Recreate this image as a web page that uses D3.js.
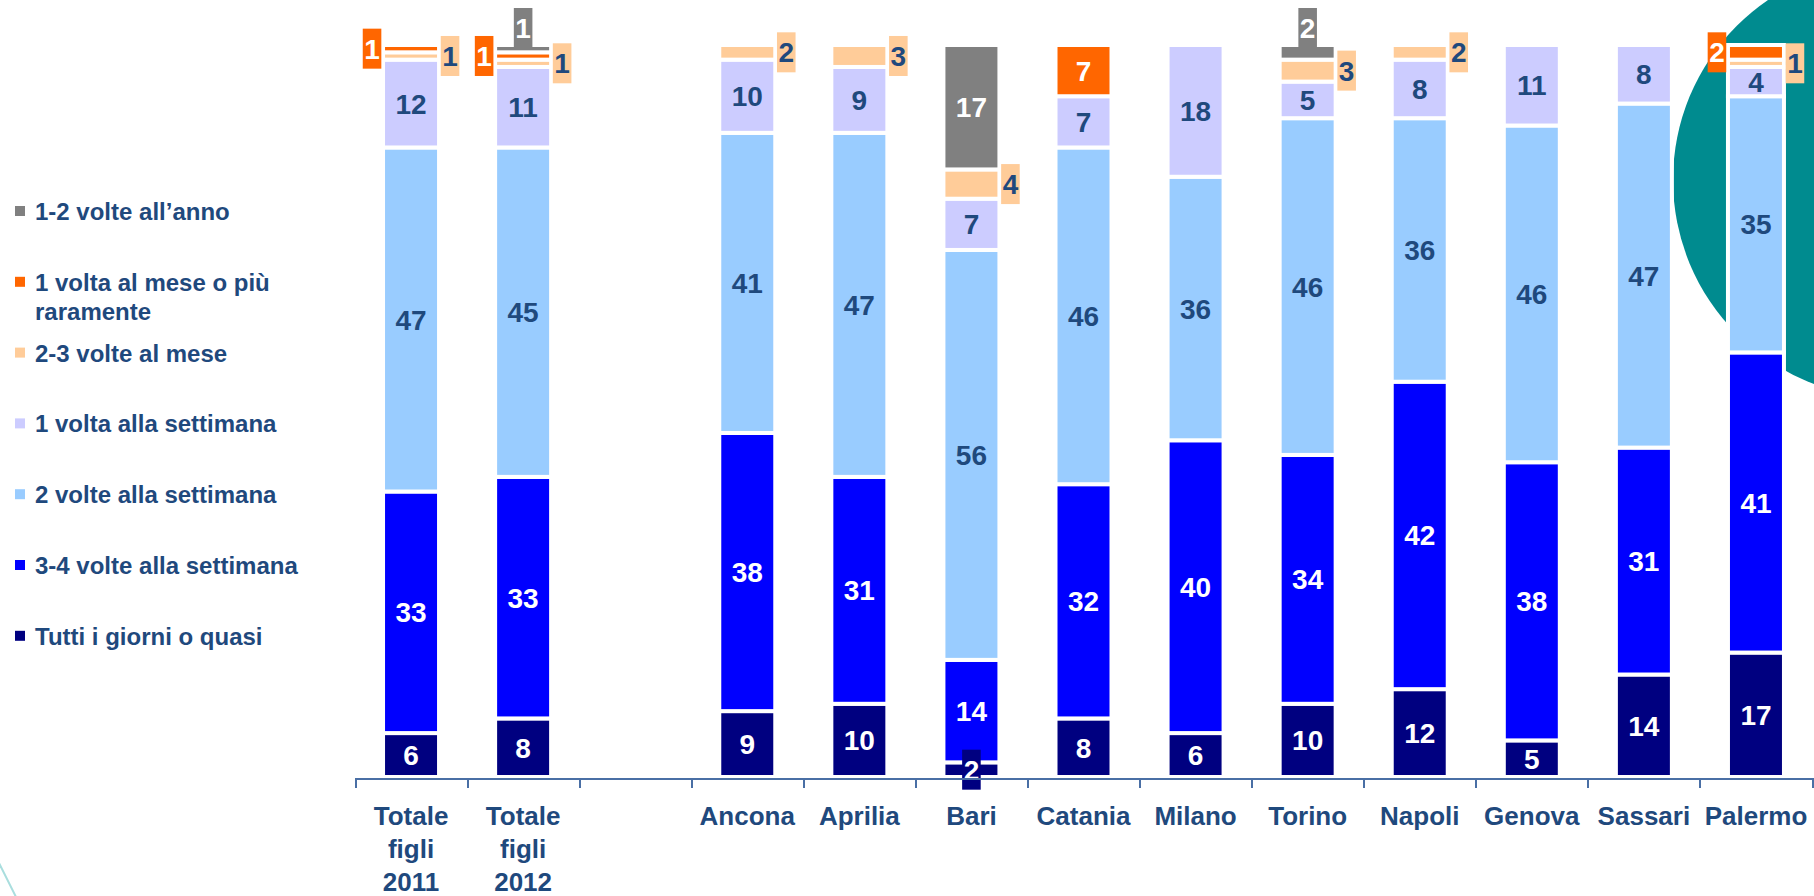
<!DOCTYPE html>
<meta charset="utf-8">
<style>
body { margin: 0; background: #fff; }
svg { display: block; font-family: "Liberation Sans", Arial, sans-serif; font-weight: bold; }
.axis path, .axis line { stroke: #4A6FA5; stroke-width: 2; shape-rendering: crispEdges; }
.axis text { fill: #1F497D; font-size: 26px; font-weight: bold; font-family: "Liberation Sans", Arial, sans-serif; }
.legend text { fill: #1F497D; font-size: 24px; }
</style>
<body>
<script src="https://cdn.jsdelivr.net/npm/d3@7"></script>
<script>
// categories (empty slot between totals and cities)
var categories = ["Totale figli 2011", "Totale figli 2012", "", "Ancona", "Aprilia", "Bari",
  "Catania", "Milano", "Torino", "Napoli", "Genova", "Sassari", "Palermo"];

// values in %, bottom to top
var tutti      = [6, 8, 0, 9, 10, 2, 8, 6, 10, 12, 5, 14, 17];
var tre4Sett   = [33, 33, 0, 38, 31, 14, 32, 40, 34, 42, 38, 31, 41];
var dueSett    = [47, 45, 0, 41, 47, 56, 46, 36, 46, 36, 46, 47, 35];
var unaSett    = [12, 11, 0, 10, 9, 7, 7, 18, 5, 8, 11, 8, 4];
var dueTreMese = [1, 1, 0, 2, 3, 4, 0, 0, 3, 2, 0, 0, 1];
var unaMese    = [1, 1, 0, 0, 0, 0, 7, 0, 0, 0, 0, 0, 2];
var unaDueAnno = [0, 1, 0, 0, 0, 17, 0, 0, 2, 0, 0, 0, 0];

var seriesNames = ["Tutti i giorni o quasi", "3-4 volte alla settimana", "2 volte alla settimana",
  "1 volta alla settimana", "2-3 volte al mese", "1 volta al mese o più raramente", "1-2 volte all’anno"];
var seriesKeys = ["tutti", "tre4", "due", "una", "mese23", "mese1", "anno"];
var colors = ["#000080", "#0000FF", "#99CCFF", "#CCCCFF", "#FFCC99", "#FF6600", "#808080"];
var textColors = ["#fff", "#fff", "#1F497D", "#1F497D", "#1F497D", "#fff", "#fff"];

var W = 1814, H = 896;
var svg = d3.select("body").append("svg").attr("width", W).attr("height", H);

// decoration: teal circle top right, thin arc bottom left
svg.append("circle").attr("cx", 1891).attr("cy", 180).attr("r", 218).attr("fill", "#008B8F");
svg.append("line").attr("x1", -2).attr("y1", 861).attr("x2", 16).attr("y2", 897)
  .attr("stroke", "#A9DEDE").attr("stroke-width", 2);

var table = categories.map(function(c, i) {
  return {cat: c, tutti: tutti[i], tre4: tre4Sett[i], due: dueSett[i], una: unaSett[i],
    mese23: dueTreMese[i], mese1: unaMese[i], anno: unaDueAnno[i]};
});

var x = d3.scaleBand().domain(categories).range([355, 1812]);
var y = d3.scaleLinear().domain([0, 100]).range([777, 45]);
var barW = 56;

var stacked = d3.stack().keys(seriesKeys)(table);

var layers = svg.selectAll(".layer").data(stacked).enter().append("g")
  .attr("class", "layer")
  .attr("fill", function(d, i) { return colors[i]; });

layers.selectAll("rect")
  .data(function(d) { return d.filter(function(p) { return p[1] - p[0] > 0; }); })
  .enter().append("rect")
  .attr("x", function(d) { return x(d.data.cat) + x.bandwidth() / 2 - barW / 2; })
  .attr("y", function(d) { return y(d[1]); })
  .attr("width", barW)
  .attr("height", function(d) { return y(d[0]) - y(d[1]); })
  .attr("stroke", "#fff").attr("stroke-width", 4);

// value labels
var labels = svg.append("g");
stacked.forEach(function(layer, si) {
  var key = seriesKeys[si];
  layer.forEach(function(p) {
    var v = p[1] - p[0];
    if (v <= 0) return;
    var cx = x(p.data.cat) + x.bandwidth() / 2;
    var cy = (y(p[0]) + y(p[1])) / 2;
    var boxed = false, bx = cx, by = cy;
    if (key === "anno" && v < 5) { boxed = true; by = y(p[1]) + 2 - 19; }
    else if (key === "mese1" && v < 5) { boxed = true; bx = cx - barW / 2 - 11; }
    else if (key === "mese23" && v < 5) { boxed = true; bx = cx + barW / 2 + 11; }
    else if (v < 3) { boxed = true; }
    var g = labels.append("g");
    var t = g.append("text")
      .attr("x", bx).attr("y", by + 10)
      .attr("text-anchor", "middle")
      .attr("font-size", 28)
      .attr("fill", textColors[si])
      .text(v);
    if (boxed) {
      var tw = t.node().getComputedTextLength();
      g.insert("rect", "text")
        .attr("x", bx - tw / 2 - 1.5).attr("y", by - 20)
        .attr("width", tw + 3).attr("height", 40)
        .attr("fill", colors[si]);
    }
  });
});

// axis: line with ticks between categories
var xEdge = d3.scaleLinear().domain([0, categories.length]).range([355, 1812]);
svg.append("g").attr("class", "axis")
  .attr("transform", "translate(0,778)")
  .call(d3.axisBottom(xEdge).tickValues(d3.range(categories.length + 1))
    .tickFormat("").tickSize(10).tickSizeOuter(0));

var catAxis = svg.append("g").attr("class", "axis")
  .attr("transform", "translate(0,778)")
  .call(d3.axisBottom(x).tickSize(0));
catAxis.select(".domain").remove();
catAxis.selectAll(".tick text").each(function(d) {
  var words = d.split(" ");
  var el = d3.select(this).text(null).attr("y", 0).attr("dy", null);
  words.forEach(function(w, i) {
    el.append("tspan").attr("x", 0).attr("y", 47 + i * 33).text(w);
  });
});

// legend
var legendItems = [6, 5, 4, 3, 2, 1, 0];
var legend = svg.append("g").attr("class", "legend");
legendItems.forEach(function(si, i) {
  var ly = 212 + i * 70.8;
  legend.append("rect").attr("x", 15).attr("y", ly - 6).attr("width", 10).attr("height", 10)
    .attr("fill", colors[si]);
  var name = seriesNames[si];
  var lines = si === 5 ? ["1 volta al mese o più", "raramente"] : [name];
  lines.forEach(function(l, j) {
    legend.append("text").attr("x", 35).attr("y", ly + 8 + j * 29).text(l);
  });
});
</script>
</body>
